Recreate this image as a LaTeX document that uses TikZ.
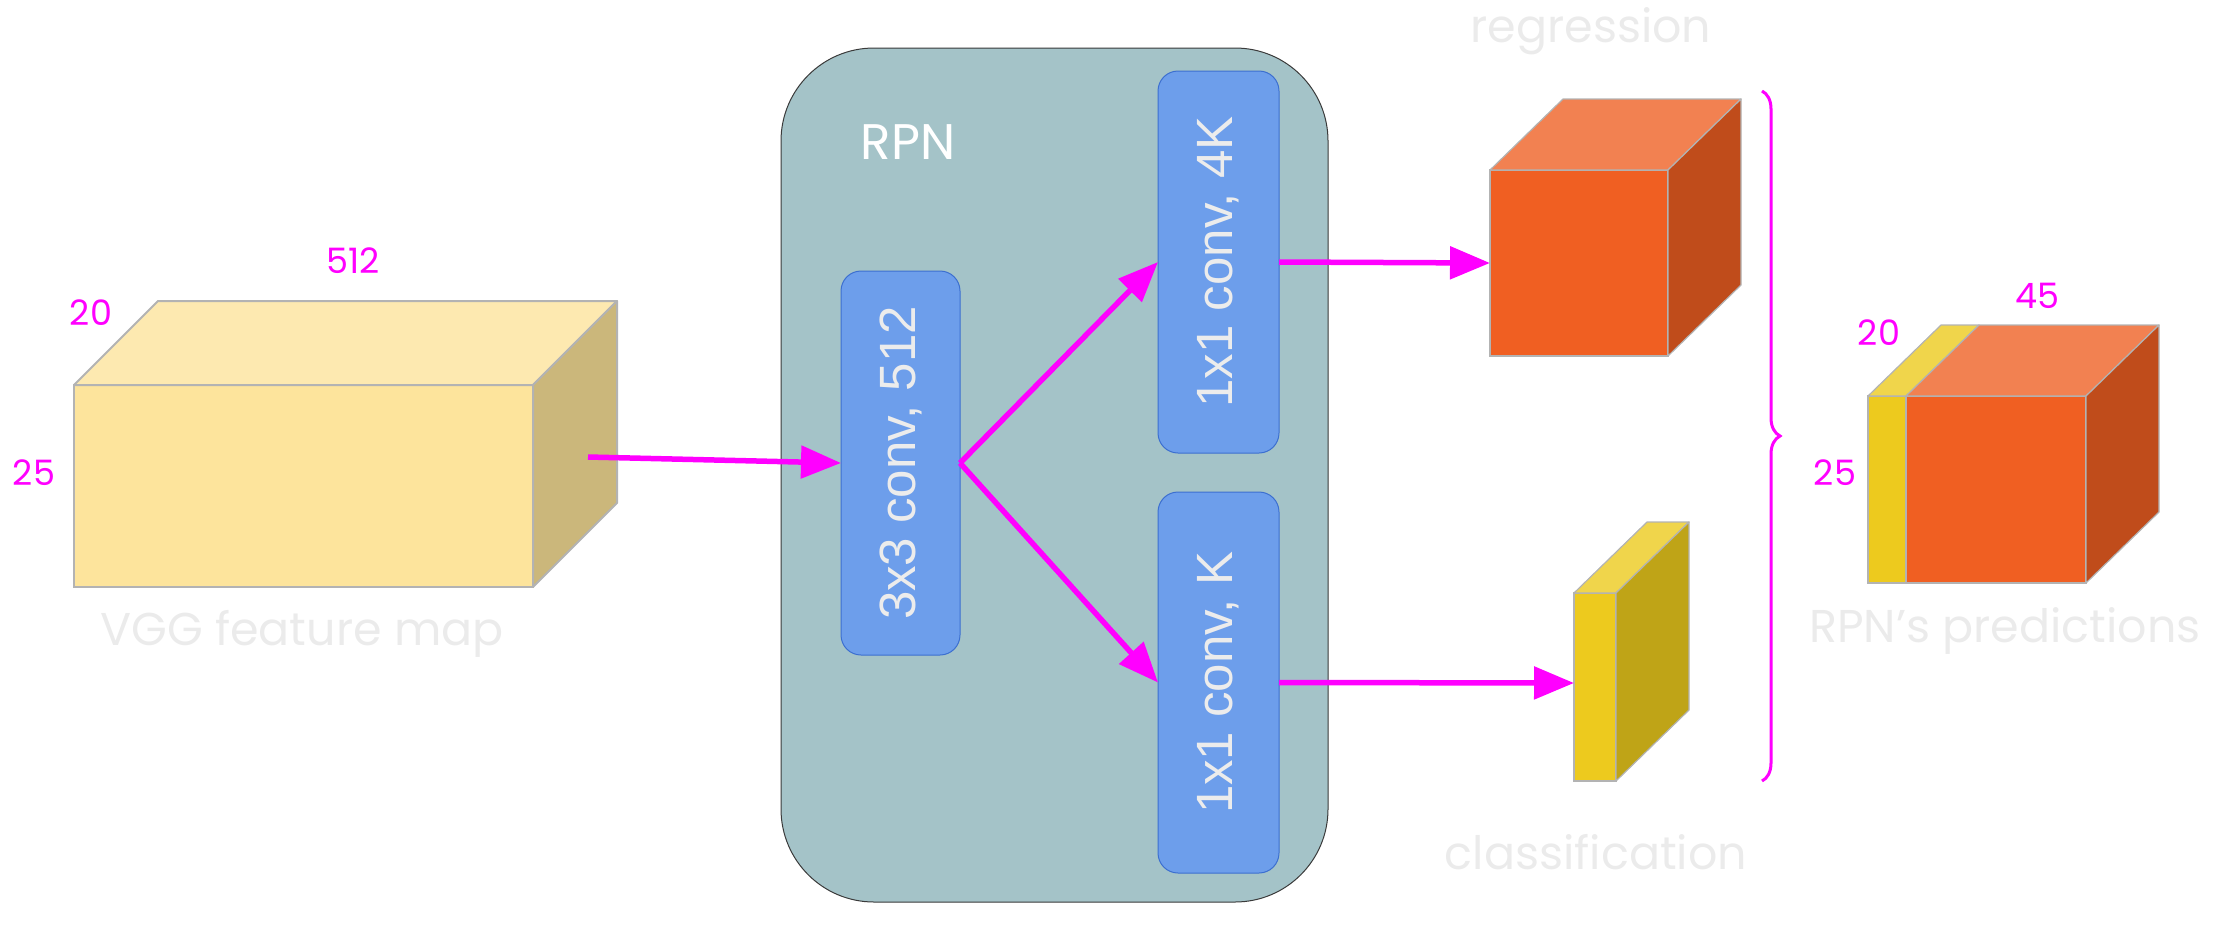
\documentclass[tikz,border=0pt]{standalone}
\usepackage{fontspec}
\setmainfont{Liberation Sans}
\newfontfamily\comic{Poppins}
\usetikzlibrary{arrows.meta,decorations.pathreplacing,calc}
\definecolor{vggfront}{HTML}{FDE49C}
\definecolor{vggtop}{HTML}{FDE9B0}
\definecolor{vggside}{HTML}{CBB77B}
\definecolor{edgegray}{HTML}{B3B3B3}
\definecolor{rpnfill}{HTML}{A4C3C8}
\definecolor{rpnedge}{HTML}{3A3A3A}
\definecolor{convfill}{HTML}{6D9EEB}
\definecolor{convedge}{HTML}{3C6FD0}
\definecolor{convtext}{HTML}{ECECEC}
\definecolor{orfront}{HTML}{F05F22}
\definecolor{ortop}{HTML}{F28151}
\definecolor{orside}{HTML}{C04C1B}
\definecolor{yefront}{HTML}{EDCA1E}
\definecolor{yetop}{HTML}{F0D54B}
\definecolor{yeside}{HTML}{BFA417}
\definecolor{ghost}{HTML}{EBEBEB}
\definecolor{mag}{HTML}{FF00FF}
\begin{document}
\begin{tikzpicture}[x=1pt,y=-1pt,
  face/.style={draw=edgegray,line width=2pt,rectangle,inner sep=0pt,outer sep=0pt,anchor=north west},
  thinface/.style={draw=edgegray,line width=1.2pt,rectangle,inner sep=0pt,outer sep=0pt,anchor=north west},
  rpnbox/.style={draw=rpnedge,fill=rpnfill,line width=1pt,rectangle,rounded corners=93pt,inner sep=0pt,outer sep=0pt,anchor=north west},
  convbox/.style={draw=convedge,fill=convfill,line width=1pt,rectangle,rounded corners=20pt,inner sep=0pt,outer sep=0pt,anchor=north west},
  convlabel/.style={rotate=90,text=convtext,font=\fontsize{51}{60}\selectfont},
  ghostlabel/.style={text=ghost,font=\comic\fontsize{46}{56}\selectfont},
  dimlabel/.style={text=mag,font=\comic\fontsize{35}{42}\selectfont},
  flow/.style={draw=mag,line width=5.5pt,-{Triangle[length=40pt,width=32pt]}},
]
\useasboundingbox (0,0) rectangle (2234,924);

% VGG feature map
\node[face,fill=vggfront,minimum width=459pt,minimum height=202pt] (vgg) at (74,385) {};
\filldraw[fill=vggtop,draw=edgegray,line width=2pt,line join=round] (vgg.north west) -- ++(84,-84) -- ++(459,0) -- (vgg.north east) -- cycle;
\filldraw[fill=vggside,draw=edgegray,line width=2pt,line join=round] (vgg.north east) -- ++(84,-84) -- ++(0,202) -- (vgg.south east) -- cycle;
\coordinate (vggout) at (588,457);
\node[dimlabel] (d512) at (353,261) {512};
\node[dimlabel] (d20a) at (91,313) {20};
\node[dimlabel] (d25a) at (34,473) {25};
\node[ghostlabel] (vgglabel) at (302,634) {VGG feature map};

% RPN
\node[rpnbox,minimum width=547pt,minimum height=854pt] (rpn) at (781,48) {};
\node[text=white,font=\comic\fontsize{50}{60}\selectfont] (rpnlabel) at (908,142) {RPN};
\node[convbox,minimum width=119pt,minimum height=384pt] (b3) at (841,271) {};
\node[convlabel] (b3t) at (b3.center) {3x3 conv, 512};
\node[convbox,minimum width=121pt,minimum height=382pt] (b4) at (1158,71) {};
\node[convlabel] (b4t) at (b4.center) {1x1 conv, 4K};
\node[convbox,minimum width=121pt,minimum height=381pt] (bk) at (1158,492) {};
\node[convlabel] (bkt) at (bk.center) {1x1 conv, K};

% regression cube
\node[thinface,fill=orfront,minimum width=178pt,minimum height=186pt] (reg) at (1490,170) {};
\filldraw[fill=ortop,draw=edgegray,line width=1.2pt,line join=round] (reg.north west) -- ++(73,-71) -- ++(178,0) -- (reg.north east) -- cycle;
\filldraw[fill=orside,draw=edgegray,line width=1.2pt,line join=round] (reg.north east) -- ++(73,-71) -- ++(0,186) -- (reg.south east) -- cycle;
\node[ghostlabel] (reglabel) at (1591,31) {regression};

% classification slab
\node[thinface,fill=yefront,minimum width=42pt,minimum height=188pt] (cls) at (1574,593) {};
\filldraw[fill=yetop,draw=edgegray,line width=1.2pt,line join=round] (cls.north west) -- ++(73,-71) -- ++(42,0) -- (cls.north east) -- cycle;
\filldraw[fill=yeside,draw=edgegray,line width=1.2pt,line join=round] (cls.north east) -- ++(73,-71) -- ++(0,188) -- (cls.south east) -- cycle;
\node[ghostlabel] (clslabel) at (1596,852) {classification};

% brace
\coordinate (brtop) at (1762,91);
\coordinate (brbot) at (1762,781);
\draw[mag,line width=3pt,decorate,decoration={brace,amplitude=18pt}] (brtop) -- (brbot);

% predictions
\node[thinface,fill=yefront,minimum width=38pt,minimum height=187pt] (py) at (1868,396) {};
\node[thinface,fill=orfront,minimum width=180pt,minimum height=187pt] (po) at (1906,396) {};
\filldraw[fill=yetop,draw=edgegray,line width=1.2pt,line join=round] (py.north west) -- ++(73,-71) -- ++(38,0) -- (py.north east) -- cycle;
\filldraw[fill=ortop,draw=edgegray,line width=1.2pt,line join=round] (po.north west) -- ++(73,-71) -- ++(180,0) -- (po.north east) -- cycle;
\filldraw[fill=orside,draw=edgegray,line width=1.2pt,line join=round] (po.north east) -- ++(73,-71) -- ++(0,187) -- (po.south east) -- cycle;
\node[dimlabel] (d45) at (2037,296) {45};
\node[dimlabel] (d20b) at (1879,333) {20};
\node[dimlabel] (d25b) at (1835,473) {25};
\node[ghostlabel] (predlabel) at (2005,631) {RPN’s predictions};

% connectors
\draw[flow] (vggout) -- (b3.west);
\draw[flow] (b3.east) -- (b4.west);
\draw[flow] (b3.east) -- (bk.west);
\draw[flow] (b4.east) -- (reg.west);
\draw[flow] (bk.east) -- ([yshift=4pt]cls.west);
\end{tikzpicture}
\end{document}
